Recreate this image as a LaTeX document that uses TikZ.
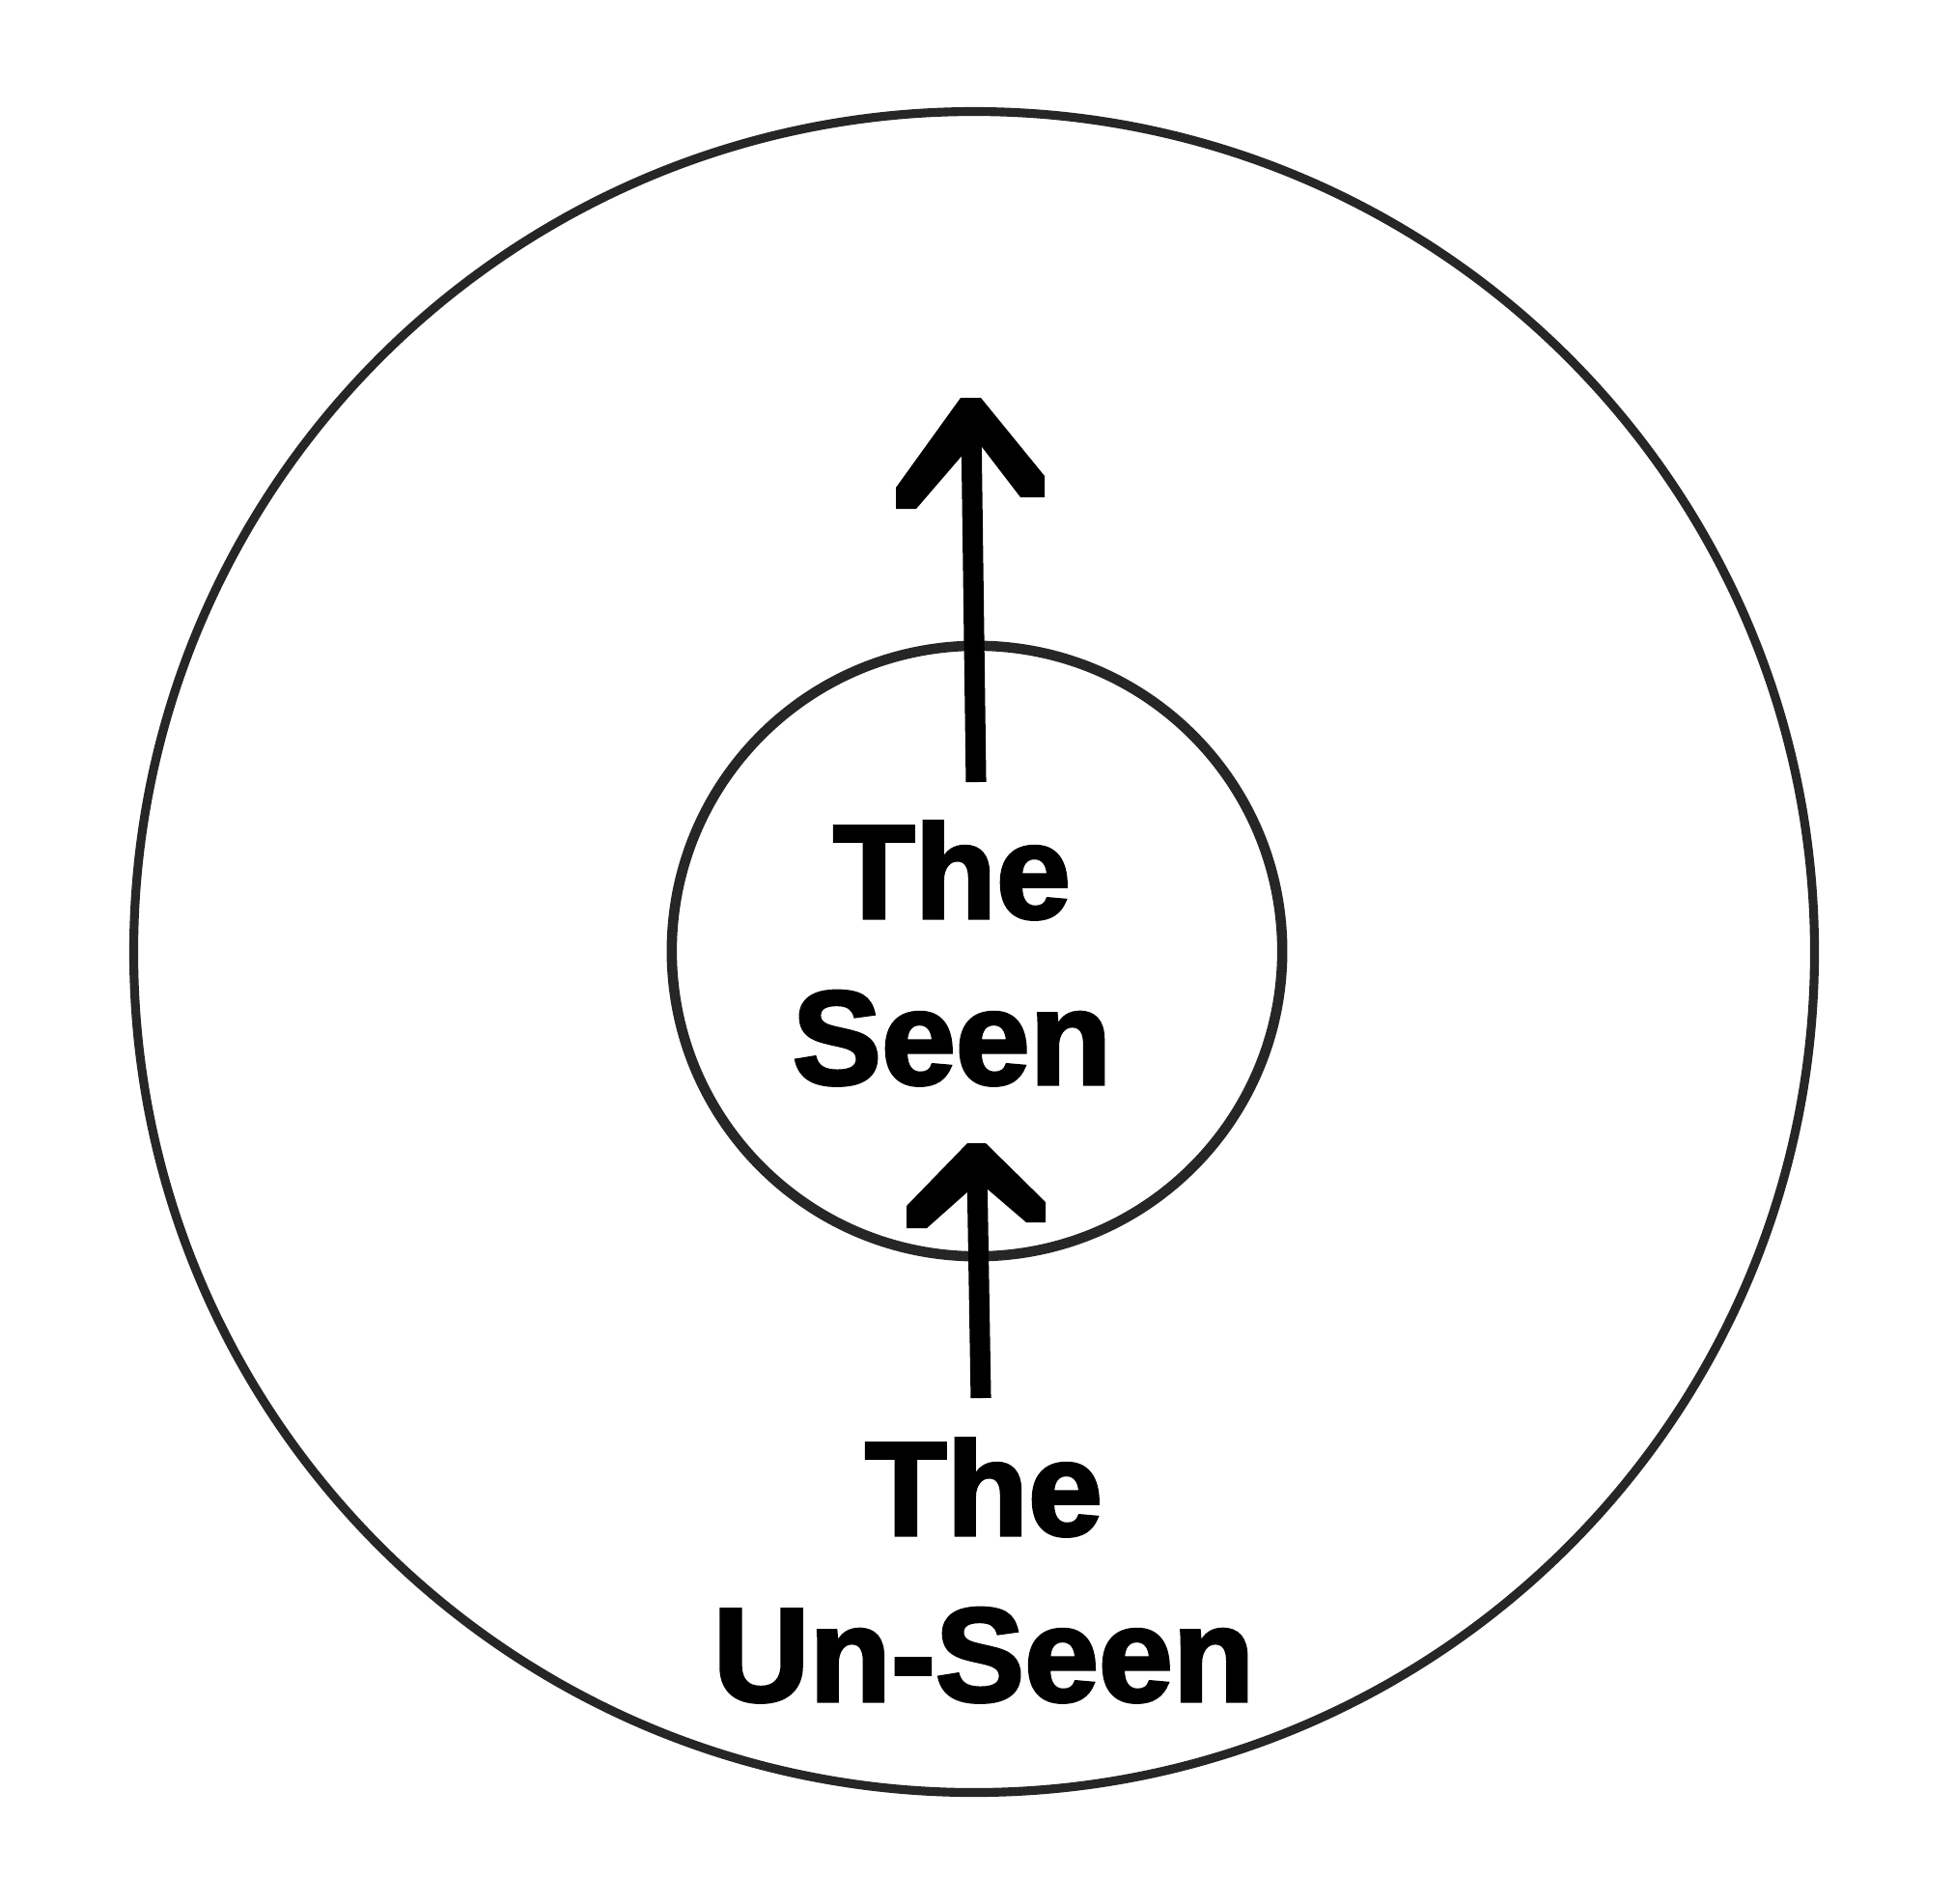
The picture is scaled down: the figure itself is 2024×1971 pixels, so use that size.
\documentclass[tikz,border=0pt]{standalone}
\usepackage{fontspec}
\setmainfont{Liberation Sans}[BoldFeatures={FakeBold=2.5}]
\usetikzlibrary{positioning,calc}

\tikzset{
  ring/.style={draw=black!85,line width=2.6pt},
  shaft/.style={line width=6pt,line cap=butt},
  head/.style={fill=black,draw=none},
  label/.style={inner sep=0pt,align=center,anchor=north,
    font=\fontsize{39.3pt}{48.9pt}\selectfont\bfseries}
}

\begin{document}
\begin{tikzpicture}[x=0.01cm,y=-0.01cm]
  \useasboundingbox[fill=white] (0,0) rectangle (2024,1971);
  \draw[ring] (1009,986) circle (8.70cm);
  \draw[ring,line width=3pt] (1012,985) circle (3.16cm);
  \node[label] (seen) at (986,850) {The\\Seen};
  \node[label] (unseen) at (1019,1489) {The\\Un-Seen};
  % upward arrow out of the inner circle
  \coordinate (a1s) at (1011,810);
  \coordinate (a1t) at (1006,440);
  \draw[shaft] (a1s) -- (a1t);
  \fill[head] (995,412) -- (1016,412) -- (1082,493) -- (1082,515) -- (1057,515)
    -- (1011,455) -- (949,527) -- (928,527) -- (928,505) -- cycle;
  % from the un-seen to the seen
  \coordinate (a2s) at (1016,1448);
  \coordinate (a2t) at (1012,1210);
  \draw[shaft] (a2s) -- (a2t);
  \fill[head] (1002,1184) -- (1021,1184) -- (1083,1245) -- (1083,1266) -- (1063,1266)
    -- (1014,1224) -- (960,1272) -- (939,1272) -- (939,1249) -- cycle;
\end{tikzpicture}
\end{document}
